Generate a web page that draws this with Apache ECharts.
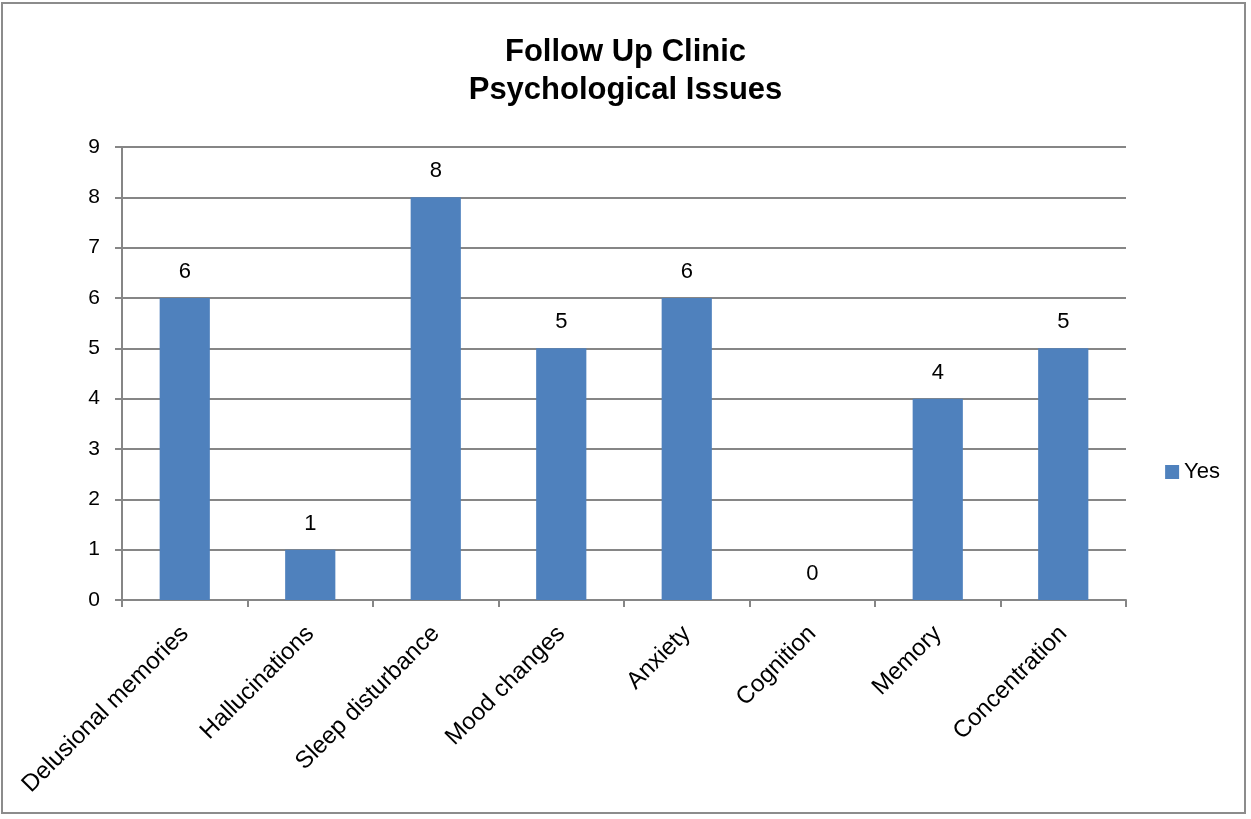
<!DOCTYPE html>
<html>
<head>
<meta charset="utf-8">
<script src="https://cdn.jsdelivr.net/npm/echarts@6/dist/echarts.min.js"></script>
<style>
  html, body { margin: 0; padding: 0; background: #fff; }
  #frame { position: absolute; left: 1px; top: 2px; width: 1245px; height: 812px; border: 2px solid #8c8c8c; box-sizing: border-box; }
  #chart { position: absolute; left: 0; top: 0; width: 1251px; height: 819px; }
</style>
</head>
<body>
<div id="frame"></div>
<div id="chart"></div>
<script>
// Psychological issues reported at the follow-up clinic
const categories = ['Delusional memories', 'Hallucinations', 'Sleep disturbance', 'Mood changes', 'Anxiety', 'Cognition', 'Memory', 'Concentration'];
const yesCounts = [6, 1, 8, 5, 6, 0, 4, 5];
const seriesName = 'Yes';
const titleLines = ['Follow Up Clinic', 'Psychological Issues'];

const font = '"Liberation Sans", Arial, sans-serif';
const axisGray = '#868686';

const chart = echarts.init(document.getElementById('chart'));
chart.setOption({
  backgroundColor: 'transparent',
  animation: false,
  title: {
    text: titleLines.join('\n'),
    left: 'center',
    top: 28,
    textStyle: { fontFamily: font, fontSize: 31, fontWeight: 'bold', color: '#000', lineHeight: 38 }
  },
  legend: {
    data: [seriesName],
    right: 26,
    top: 456,
    orient: 'vertical',
    icon: 'rect',
    itemWidth: 14,
    itemHeight: 14,
    itemGap: 6,
    textStyle: { fontFamily: font, fontSize: 22, color: '#000' }
  },
  grid: { left: 122, right: 125, top: 147, bottom: 219, containLabel: false },
  xAxis: {
    type: 'category',
    data: categories,
    boundaryGap: true,
    axisLine: { lineStyle: { color: axisGray, width: 2 } },
    axisTick: { show: true, length: 7, alignWithLabel: false, lineStyle: { color: axisGray, width: 2 } },
    axisLabel: { rotate: 45, interval: 0, margin: 30, fontFamily: font, fontSize: 24, color: '#000' }
  },
  yAxis: {
    type: 'value',
    min: 0,
    max: 9,
    interval: 1,
    axisLine: { show: true, lineStyle: { color: axisGray, width: 2 } },
    axisTick: { show: true, length: 7, lineStyle: { color: axisGray, width: 2 } },
    axisLabel: { margin: 22, fontFamily: font, fontSize: 21, color: '#000' },
    splitLine: { show: true, lineStyle: { color: axisGray, width: 2 } }
  },
  series: [{
    name: seriesName,
    type: 'bar',
    data: yesCounts,
    barWidth: '40%',
    itemStyle: { color: '#4F81BD' },
    label: { show: true, position: 'top', distance: 15, fontFamily: font, fontSize: 22, color: '#000' }
  }]
});
</script>
</body>
</html>
